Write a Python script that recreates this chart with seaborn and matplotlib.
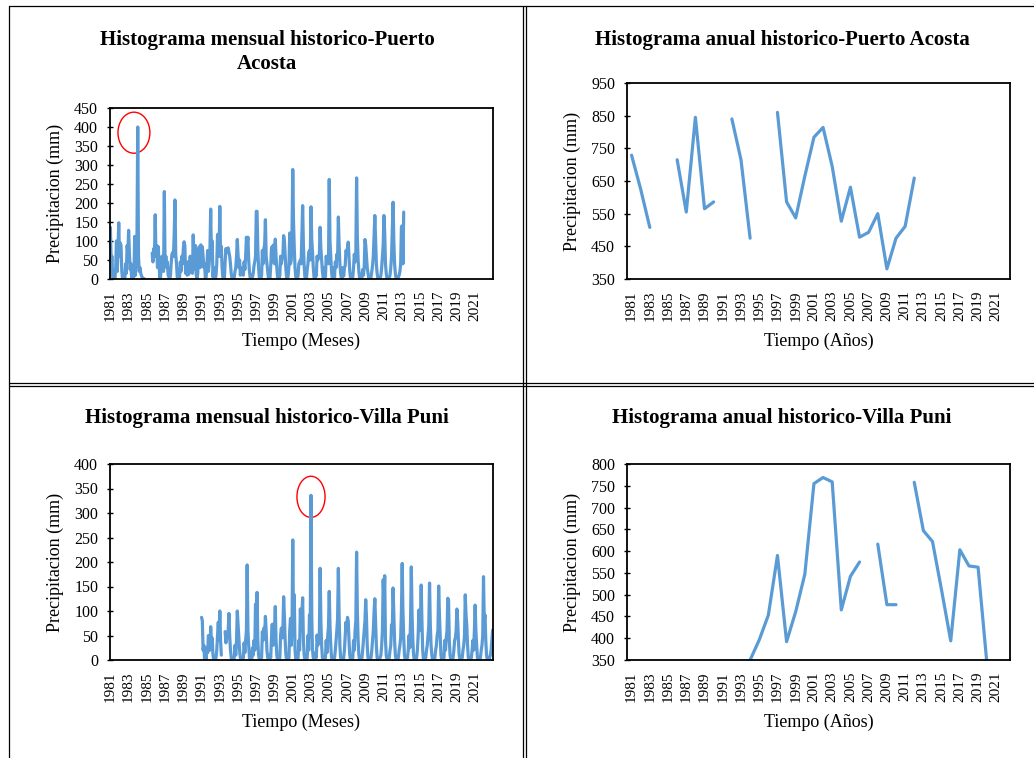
import numpy as np
import pandas as pd
import matplotlib
matplotlib.use("Agg")
import matplotlib.pyplot as plt
from matplotlib.lines import Line2D
from matplotlib.patches import Ellipse
import seaborn as sns

nan = np.nan

# ---------------- DATA ----------------
tick_years = list(range(1981, 2022, 2))
years = list(range(1981, 2023))

# Puerto Acosta monthly precipitation (mm), Jan..Dec per row
pa_monthly = [
    [136, 45, 60, 5, 0, 2, 0, 30, 100, 20, 70, 148],      # 1981
    [60, 95, 88, 20, 0, 0, 8, 3, 40, 15, 88, 70],         # 1982
    [128, 70, 25, 40, 2, 0, 0, 10, 112, 10, 50, 115],     # 1983
    [400, 60, 20, 30, 15, 8, 4, 2, 1, 0, nan, nan],       # 1984
    [nan, nan, nan, nan, nan, nan, nan, 68, 45, 80, 60, 169],  # 1985
    [60, 88, 30, 85, 40, 0, 5, 35, 60, 30, 20, 230],      # 1986
    [35, 60, 30, 45, 10, 5, 0, 8, 40, 65, 70, 60],        # 1987
    [120, 208, 65, 40, 5, 0, 0, 3, 45, 20, 60, 40],       # 1988
    [80, 98, 87, 15, 30, 10, 45, 12, 20, 60, 30, 50],     # 1989
    [15, 116, 40, 25, 88, 10, 0, 15, 65, 85, 30, 90],     # 1990
    [68, 85, 60, 30, 40, 0, 5, 35, 75, 20, 40, 75],       # 1991
    [184, 60, 100, 5, 30, 0, 0, 10, 40, 117, 118, 60],    # 1992
    [191, 60, 86, 30, 5, 0, 0, 45, 80, 70, 75, 82],       # 1993
    [70, 60, 40, 15, 2, 0, 0, 5, 20, 30, 60, 104],        # 1994
    [64, 30, 50, 10, 25, 15, 30, 10, 45, 25, 60, 110],    # 1995
    [90, 110, 50, 20, 3, 0, 10, 5, 15, 35, 45, 60],       # 1996
    [178, 178, 80, 30, 5, 0, 0, 10, 75, 40, 80, 90],      # 1997
    [156, 60, 40, 20, 2, 0, 0, 35, 80, 86, 45, 90],       # 1998
    [40, 105, 60, 30, 5, 0, 0, 10, 60, 40, 55, 60],       # 1999
    [114, 100, 60, 25, 3, 0, 10, 35, 121, 40, 50, 120],   # 2000
    [288, 150, 80, 30, 5, 0, 0, 10, 40, 45, 50, 40],      # 2001
    [120, 193, 90, 35, 5, 0, 0, 25, 40, 70, 75, 50],      # 2002
    [190, 104, 70, 30, 5, 0, 20, 8, 60, 50, 60, 65],      # 2003
    [136, 80, 50, 20, 3, 0, 30, 5, 60, 45, 60, 40],       # 2004
    [262, 100, 60, 20, 2, 0, 30, 5, 45, 30, 65, 55],      # 2005
    [163, 90, 40, 15, 2, 0, 30, 8, 30, 35, 75, 70],       # 2006
    [80, 97, 60, 20, 3, 0, 0, 5, 30, 65, 45, 70],         # 2007
    [266, 110, 50, 20, 2, 0, 0, 5, 25, 10, 30, 104],      # 2008
    [90, 60, 30, 15, 2, 0, 0, 5, 20, 35, 60, 112],        # 2009
    [167, 100, 40, 15, 2, 0, 0, 3, 10, 30, 60, 90],       # 2010
    [167, 120, 40, 15, 2, 0, 0, 3, 10, 30, 60, 131],      # 2011
    [202, 100, 40, 15, 2, 0, 0, 5, 10, 20, 40, 138],      # 2012
    [140, 40, 176, nan, nan, nan, nan, nan, nan, nan, nan, nan],  # 2013
]

# Villa Puni monthly precipitation (mm), Jan..Dec per row, from 1991
vp_monthly = [
    [87, 80, 20, 30, 0, 10, 0, 25, 15, 50, 35, 20],       # 1991
    [68, 33, 45, 10, 0, 0, 0, 5, 20, 50, 77, 40],         # 1992
    [100, 40, 10, nan, nan, nan, nan, 58, 35, 50, 45, 60],  # 1993
    [95, 50, 20, 5, 0, 0, 0, 5, 30, 10, 40, 100],         # 1994
    [72, 40, 20, 5, 0, 0, 0, 5, 35, 15, 40, 60],          # 1995
    [194, 60, 30, 5, 0, 0, 0, 25, 10, 40, 20, 114],       # 1996
    [80, 138, 40, 10, 0, 0, 0, 5, 58, 40, 65, 50],        # 1997
    [89, 60, 20, 5, 0, 0, 10, 5, 45, 73, 30, 73],         # 1998
    [60, 109, 40, 10, 0, 0, 0, 5, 50, 65, 45, 60],        # 1999
    [129, 89, 40, 10, 0, 0, 0, 5, 60, 85, 30, 60],        # 2000
    [245, 70, 133, 20, 0, 0, 0, 5, 40, 20, 104, 60],      # 2001
    [90, 127, 40, 10, 0, 0, 0, 5, 50, 20, 92, 60],        # 2002
    [336, 90, 20, 5, 0, 0, 15, 5, 51, 30, 40, 50],        # 2003
    [187, 80, 30, 5, 0, 0, 0, 5, 40, 15, 50, 68],         # 2004
    [140, 70, 30, 5, 0, 0, 0, 5, 20, 40, 60, 85],         # 2005
    [187, 90, 30, 5, 0, 0, 0, 5, 20, 50, 77, 60],         # 2006
    [87, 80, 40, 10, 0, 0, 0, 5, 40, 20, 60, 80],         # 2007
    [220, 100, 40, 10, 0, 0, 0, 5, 20, 40, 60, 80],       # 2008
    [123, 87, 30, 5, 0, 0, 0, 5, 20, 40, 60, 99],         # 2009
    [125, 80, 30, 5, 0, 0, 0, 5, 10, 30, 60, 164],        # 2010
    [120, 172, 40, 10, 0, 0, 0, 5, 20, 30, 72, 60],       # 2011
    [147, 95, 40, 10, 0, 0, 0, 5, 20, 30, 45, 100],       # 2012
    [197, 100, 45, 10, 0, 0, 0, 5, 20, 50, 25, 80],       # 2013
    [190, 90, 40, 10, 0, 0, 0, 5, 20, 50, 102, 60],       # 2014
    [80, 153, 78, 20, 0, 0, 0, 5, 20, 30, 50, 70],        # 2015
    [157, 72, 30, 10, 0, 0, 0, 5, 20, 30, 50, 60],        # 2016
    [151, 92, 50, 10, 0, 0, 0, 5, 40, 20, 45, 60],        # 2017
    [126, 122, 40, 10, 0, 0, 0, 5, 20, 40, 45, 60],       # 2018
    [104, 80, 40, 10, 0, 0, 0, 5, 20, 30, 50, 133],       # 2019
    [92, 70, 30, 5, 0, 0, 0, 5, 20, 40, 20, 60],          # 2020
    [112, 60, 30, 5, 0, 0, 0, 5, 20, 30, 50, 170],        # 2021
    [80, 92, 40, 10, 0, 0, 0, 5, 10, 20, 40, 61],         # 2022
]

# Annual totals (mm), 1981..2022
pa_annual = [729, 625, 508, nan, nan, 715, 555, 845, 565, 586,
             nan, 840, 715, 475, nan, nan, 860, 586, 537, 665,
             784, 814, 695, 527, 631, 478, 493, 550, 381, 475,
             511, 659, nan, nan, nan, nan, nan, nan, nan, nan,
             nan, nan]
vp_annual = [nan, nan, nan, nan, nan, nan, nan, nan, nan, nan,
             nan, nan, nan, 350, 396, 453, 590, 392, 461, 547,
             755, 769, 759, 465, 542, 575, nan, 616, 477, 477,
             nan, 758, 647, 622, 510, 394, 603, 566, 563, 335,
             nan, nan]

# ---------------- BUILD FRAMES ----------------
n_months = len(years) * 12


def monthly_frame(rows, first_year):
    vals = [nan] * n_months
    off = (first_year - years[0]) * 12
    for r, row in enumerate(rows):
        for m, v in enumerate(row):
            vals[off + r * 12 + m] = v
    return pd.DataFrame({"x": np.arange(n_months), "y": vals})


def annual_frame(vals):
    return pd.DataFrame({"x": np.arange(len(years)), "y": vals})


def with_segments(df):
    valid = df["y"].notna()
    seg = (valid != valid.shift(fill_value=False)).cumsum()
    out = df[valid].copy()
    out["seg"] = seg[valid]
    return out


pa_m = with_segments(monthly_frame(pa_monthly, 1981))
vp_m = with_segments(monthly_frame(vp_monthly, 1991))
pa_a = with_segments(annual_frame(pa_annual))
vp_a = with_segments(annual_frame(vp_annual))

# ---------------- STYLE ----------------
sns.set_theme(style="white")
plt.rcParams["font.family"] = ["Liberation Serif", "DejaVu Serif"]
LINE = "#5B9BD5"

W, H = 1034, 758
fig = plt.figure(figsize=(W / 100, H / 100), dpi=100)
fig.patch.set_facecolor("white")


def rect(l, t, r, b):
    return [l / W, 1 - b / H, (r - l) / W, (b - t) / H]


ax1 = fig.add_axes(rect(110, 108, 493, 279))
ax2 = fig.add_axes(rect(627, 83, 1010, 279))
ax3 = fig.add_axes(rect(110, 464, 493, 660))
ax4 = fig.add_axes(rect(627, 464, 1010, 660))

specs = [
    (ax1, pa_m, True, (0, 450, 50), "Tiempo (Meses)", -0.316),
    (ax2, pa_a, False, (350, 950, 100), "Tiempo (Años)", -0.276),
    (ax3, vp_m, True, (0, 400, 50), "Tiempo (Meses)", -0.276),
    (ax4, vp_a, False, (350, 800, 50), "Tiempo (Años)", -0.276),
]

for ax, df, monthly, (y0, y1, ys), xlab, xly in specs:
    sns.lineplot(data=df, x="x", y="y", units="seg", estimator=None,
                 color=LINE, linewidth=2.3, ax=ax, legend=False)
    ax.set_ylim(y0, y1)
    ax.set_yticks(np.arange(y0, y1 + 1, ys))
    if monthly:
        ax.set_xlim(-0.5, n_months - 0.5)
        ax.set_xticks([(y - years[0]) * 12 for y in tick_years])
    else:
        ax.set_xlim(-0.5, len(years) - 0.5)
        ax.set_xticks([y - years[0] for y in tick_years])
    ax.set_xticklabels([str(y) for y in tick_years], rotation=90)
    ax.tick_params(axis="x", length=0, pad=8, labelsize=11, colors="black")
    ax.tick_params(axis="y", direction="inout", length=5, width=1,
                   left=True, pad=6, labelsize=11.5, colors="black")
    for s in ax.spines.values():
        s.set_visible(True)
        s.set_color("black")
        s.set_linewidth(1.3)
    ax.set_xlabel(xlab, fontsize=13, color="black")
    ax.set_ylabel("Precipitacion (mm)", fontsize=13, color="black")
    ax.xaxis.set_label_coords(0.5, xly)
    ax.yaxis.set_label_coords(-0.12, 0.5)
    ax.grid(False)

# Highlight circles around the maximum peaks
ax1.add_patch(Ellipse(((1984 - 1981) * 12 - 5, 385), 42, 108, fill=False,
                      edgecolor="red", linewidth=1.0, clip_on=False))
ax3.add_patch(Ellipse(((2003 - 1981) * 12, 333), 37, 84, fill=False,
                      edgecolor="red", linewidth=1.0, clip_on=False))

# Titles
tkw = dict(ha="center", va="center", fontsize=15, fontweight="bold", color="black")
fig.text(267 / W, 1 - 40 / H, "Histograma mensual historico-Puerto", **tkw)
fig.text(267 / W, 1 - 64 / H, "Acosta", **tkw)
fig.text(782 / W, 1 - 40 / H, "Histograma anual historico-Puerto Acosta", **tkw)
fig.text(267 / W, 1 - 418 / H, "Histograma mensual historico-Villa Puni", **tkw)
fig.text(782 / W, 1 - 418 / H, "Histograma anual historico-Villa Puni", **tkw)


# Table borders
def hline(y, x0=9, x1=W):
    fig.add_artist(Line2D([x0 / W, x1 / W], [1 - y / H, 1 - y / H],
                          color="black", linewidth=0.9))


def vline(x, y0=6, y1=H):
    fig.add_artist(Line2D([x / W, x / W], [1 - y0 / H, 1 - y1 / H],
                          color="black", linewidth=0.9))


hline(6)
hline(383.5)
hline(386.5)
vline(9)
vline(522.5)
vline(525.5)

fig.savefig("out.png", dpi=100, facecolor="white")
